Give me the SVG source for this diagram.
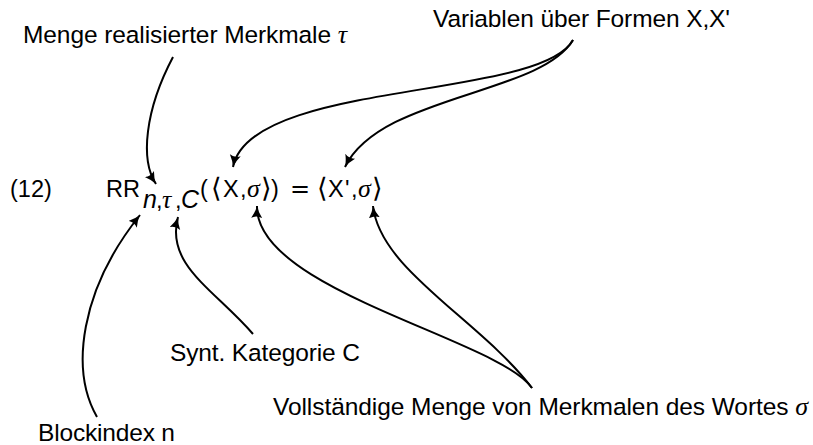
<svg xmlns="http://www.w3.org/2000/svg" width="813" height="445" viewBox="0 0 813 445">
<style>
text{font-family:"Liberation Sans",Arial,sans-serif;font-size:24.5px;fill:#000}
.f{font-size:23.5px}
.it{font-style:italic;font-size:25px}
.mi{font-family:"Liberation Serif","Times New Roman",serif;font-style:italic;font-size:26px}
.br{font-family:"DejaVu Sans",sans-serif;font-size:27px}
.eq{font-family:"DejaVu Sans",sans-serif;font-size:24px}
.c{fill:none;stroke:#000;stroke-width:2;marker-end:url(#ah)}
</style>
<defs>
<marker id="ah" markerUnits="userSpaceOnUse" markerWidth="14" markerHeight="12" refX="12" refY="5.5" orient="auto" viewBox="0 0 14 12">
<path d="M0,0 Q6,4 12,5.5 Q6,7 0,11 Q3,5.5 0,0 z" fill="#000"/>
</marker>
</defs>
<g id="formula">
<text class="f" x="10" y="197">(12)</text>
<text class="f" y="197"><tspan x="106">RR</tspan><tspan class="it" x="143" dy="11">n</tspan><tspan x="156">,</tspan><tspan class="mi" x="162">τ</tspan><tspan x="175">,</tspan><tspan class="it" x="181">C</tspan></text>
<text class="f" y="197"><tspan x="200">(</tspan><tspan class="br" x="211">⟨</tspan><tspan x="223">X</tspan><tspan x="240">,</tspan><tspan class="mi" x="247">σ</tspan><tspan class="br" x="261">⟩</tspan><tspan x="271">)</tspan><tspan class="eq" x="290">=</tspan><tspan class="br" x="317">⟨</tspan><tspan x="328">X</tspan><tspan x="345">'</tspan><tspan x="351">,</tspan><tspan class="mi" x="358">σ</tspan><tspan class="br" x="372">⟩</tspan></text>
</g>
<g id="label-tau"><text x="23" y="42.5" textLength="324">Menge realisierter Merkmale <tspan class="mi">τ</tspan></text></g>
<g id="label-vars"><text x="433" y="27" textLength="297">Variablen über Formen X,X'</text></g>
<g id="label-cat"><text x="170" y="361" textLength="190">Synt. Kategorie C</text></g>
<g id="label-block"><text x="38" y="441" textLength="137">Blockindex n</text></g>
<g id="label-sigma"><text x="273" y="415" textLength="535">Vollständige Menge von Merkmalen des Wortes <tspan class="mi">σ</tspan></text></g>
<g id="connectors">
<path class="c" d="M173,57 C145,110 140,160 156,184"/>
<path class="c" d="M573,40 C540,100 250,80 233,167"/>
<path class="c" d="M573,40 C540,95 380,95 345,167"/>
<path class="c" d="M97,417 C70,370 80,290 140,215"/>
<path class="c" d="M253,334 C215,290 165,265 178,217"/>
<path class="c" d="M532,388 C500,340 255,290 257,206"/>
<path class="c" d="M532,388 C480,320 380,270 373,206"/>
</g>
</svg>
